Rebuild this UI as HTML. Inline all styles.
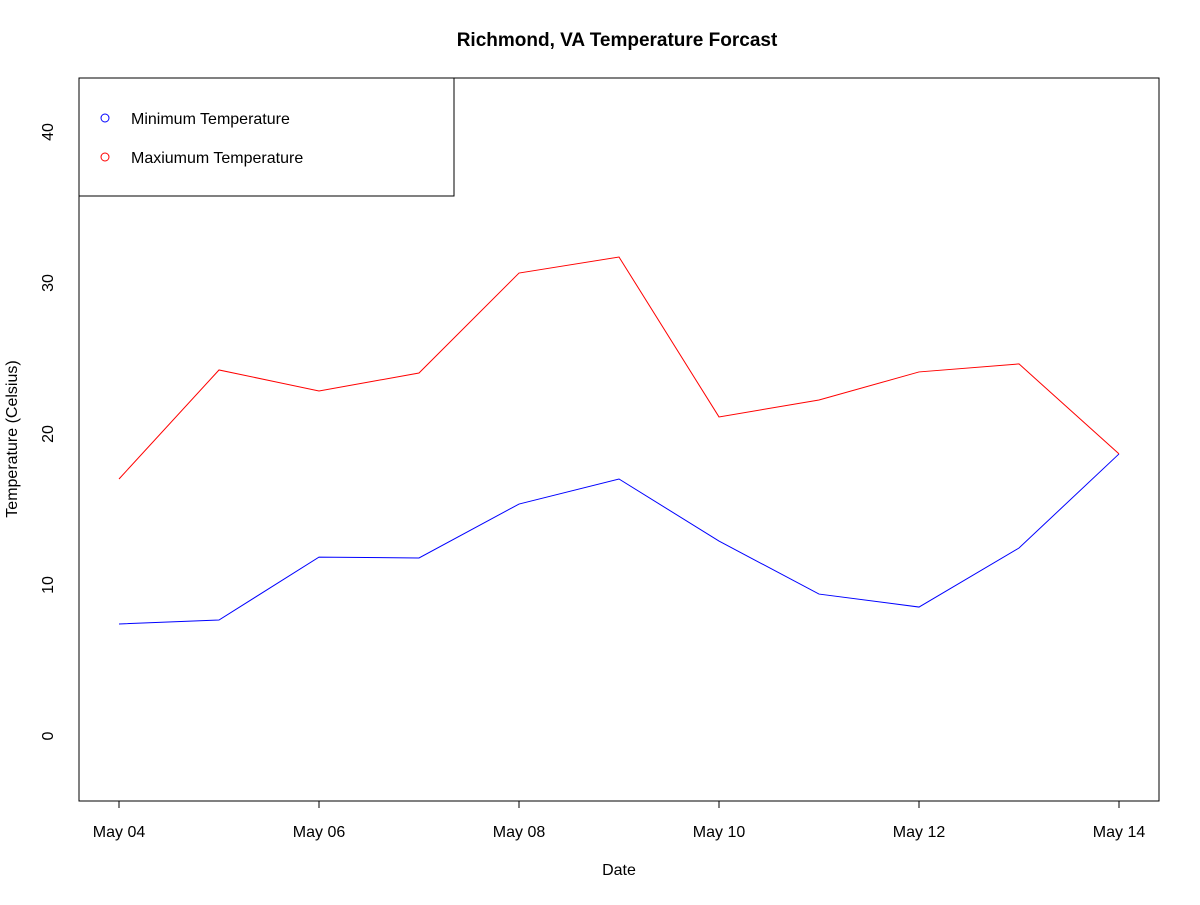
<!DOCTYPE html>
<html><head><meta charset="utf-8"><style>
body{margin:0;background:#fff;}
svg text{font-family:"Liberation Sans",sans-serif;}
</style></head><body>
<svg id="chart" width="1200" height="900" xmlns="http://www.w3.org/2000/svg">
<rect width="1200" height="900" fill="#fff"/>
<text x="617" y="46" text-anchor="middle" font-size="19" font-weight="bold">Richmond, VA Temperature Forcast</text>
<rect x="79" y="78" width="1080" height="723" fill="none" stroke="#000" stroke-width="1"/>
<g id="xaxis"></g>
<g id="yaxis"></g>
<text x="619" y="875" text-anchor="middle" font-size="16">Date</text>
<text transform="translate(17,439) rotate(-90)" text-anchor="middle" font-size="16">Temperature (Celsius)</text>
<g id="series"></g>
<g>
<rect x="79" y="78" width="375" height="118" fill="#fff" stroke="#000"/>
<circle cx="105" cy="118" r="4" fill="none" stroke="blue"/>
<text x="131" y="124" font-size="16">Minimum Temperature</text>
<circle cx="105" cy="157" r="4" fill="none" stroke="red"/>
<text x="131" y="163" font-size="16">Maxiumum Temperature</text>
</g>
</svg>
<script>
const days = [4,5,6,7,8,9,10,11,12,13,14];
const minTemps = [7.42,7.68,11.85,11.79,15.36,17.02,12.91,9.40,8.54,12.45,18.68];
const maxTemps = [17.02,24.24,22.85,24.04,30.66,31.72,21.13,22.25,24.11,24.64,18.68];
const xTickDays = [4,6,8,10,12,14];
const xTickLabels = ["May 04","May 06","May 08","May 10","May 12","May 14"];
const yTicks = [0,10,20,30,40];

const NS="http://www.w3.org/2000/svg";
function xs(d){return 119+(d-4)*100;}
function ys(v){return 736-v*15.1;}
function mk(tag,attrs,parent){const e=document.createElementNS(NS,tag);for(const k in attrs)e.setAttribute(k,attrs[k]);parent.appendChild(e);return e;}

const xa=document.getElementById('xaxis');
mk('line',{x1:xs(4),x2:xs(14),y1:801,y2:801,stroke:'#000'},xa);
xTickDays.forEach((d,i)=>{
  const t=mk('line',{x1:xs(d),x2:xs(d),y1:801,y2:808,stroke:'#000'},xa);
  
  
  const l=mk('text',{x:xs(d),y:837,'text-anchor':'middle','font-size':16},xa);
  l.textContent=xTickLabels[i];
  
  
});
const ya=document.getElementById('yaxis');
yTicks.forEach(v=>{
  const l=mk('text',{transform:`translate(53,${ys(v)}) rotate(-90)`,'text-anchor':'middle','font-size':16},ya);
  l.textContent=v;
  
  
});
const sg=document.getElementById('series');
function line(vals,color,name){
  const p=mk('polyline',{points:vals.map((v,i)=>xs(days[i])+','+ys(v)).join(' '),fill:'none',stroke:color,'stroke-width':1},sg);
  
  
}
line(minTemps,'blue','min-temperature-line');
line(maxTemps,'red','max-temperature-line');
</script>
</body></html>
